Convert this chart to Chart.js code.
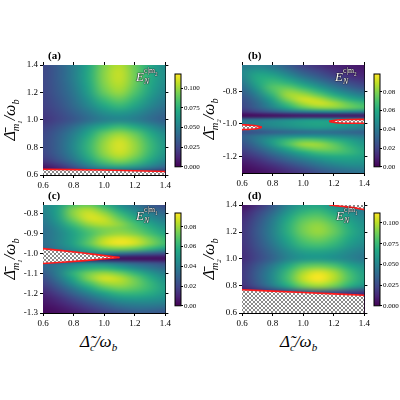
<!DOCTYPE html>
<html><head><meta charset="utf-8">
<script src="https://cdn.jsdelivr.net/npm/chart.js@4.4.1/dist/chart.umd.min.js"></script>
<style>
body{margin:0;width:400px;height:400px;background:#fff;position:relative;overflow:hidden;font-family:"Liberation Serif",serif}
canvas{position:absolute}
.t{position:absolute;white-space:nowrap;color:#000}
.pl{font-weight:bold;font-size:11px}
.ax{font-style:italic;font-size:17px}
.yl{font-style:italic;font-size:16px;transform:translate(-50%,-50%) rotate(-90deg);}
.an{font-style:italic;font-size:12px;color:#fff;text-shadow:0 0 1px #000,0 0 1px #000,0 0 1px #000}
sub,sup{font-size:65%}
</style></head><body>
<script>
// ---- data ----
const xCols=[0.6,0.7,0.8,0.9,1.0,1.1,1.2,1.3,1.4];
const aRows=[1.40,1.35,1.30,1.25,1.20,1.15,1.10,1.05,1.00,0.95,0.90,0.85,0.80,0.75,0.70,0.65,0.60];
const aVals=[
[25,35,50,70,95,105,90,70,55],[25,35,50,72,97,108,92,72,57],[25,35,50,72,97,108,92,72,57],
[25,34,48,70,95,105,90,70,55],[24,33,46,66,90,100,85,66,52],[23,31,43,60,80,90,77,60,48],
[22,29,40,54,70,78,68,54,44],[20,26,35,46,57,62,56,46,38],[18,24,32,42,50,54,50,42,35],
[22,30,42,58,72,80,72,58,46],[25,35,50,70,90,100,90,72,56],[26,37,54,76,98,110,98,78,60],
[26,37,55,78,100,112,100,80,62],[24,35,52,75,97,108,97,77,60],[18,28,44,65,85,95,85,68,52],
[5,12,25,42,55,60,55,45,35],[0,0,0,0,0,0,0,0,0]];
const bRows=[-0.650,-0.675,-0.700,-0.725,-0.750,-0.775,-0.800,-0.825,-0.850,-0.875,-0.900,-0.925,-0.950,-0.975,-1.000,-1.025,-1.050,-1.075,-1.100,-1.125,-1.150,-1.175,-1.200,-1.225,-1.250,-1.275,-1.300];
const bVals=[
[40,45,40,30,20,15,10,8,6],[45,52,48,38,27,20,14,10,8],[45,58,56,46,34,26,18,13,10],
[42,60,63,55,43,33,24,17,13],[38,58,68,64,53,42,31,23,18],[34,54,72,74,64,52,40,30,24],
[30,48,70,82,76,64,50,40,32],[27,42,64,85,86,76,62,50,42],[24,37,57,80,92,88,75,62,54],
[22,33,50,70,86,92,86,74,66],[20,30,44,60,74,82,82,76,70],[14,20,28,36,42,46,48,46,44],
[2,3,4,5,6,6,6,6,6],[36,38,42,46,50,52,50,46,42],[42,44,48,52,56,58,56,52,48],
[36,38,42,46,50,52,50,46,42],[24,26,30,33,35,36,35,33,30],[30,38,44,48,50,50,48,44,40],
[28,40,54,66,74,72,64,56,48],[24,36,52,70,84,84,74,62,52],[20,30,44,60,74,80,76,66,56],
[16,24,36,48,60,68,70,66,58],[12,18,28,38,48,56,60,60,56],[8,13,21,30,38,46,52,54,52],
[5,9,15,22,30,38,44,48,48],[3,6,10,16,22,30,36,40,42],[2,4,7,12,17,24,30,34,38]];
const cRows=[-0.750,-0.775,-0.800,-0.825,-0.850,-0.875,-0.900,-0.925,-0.950,-0.975,-1.000,-1.025,-1.050,-1.075,-1.100,-1.125,-1.150,-1.175,-1.200,-1.225,-1.250,-1.275,-1.300];
const cVals=[
[42,50,66,70,58,44,34,26,20],[42,54,76,82,70,54,42,32,26],[40,54,78,88,80,64,50,40,32],
[38,52,74,88,86,72,58,46,38],[36,48,66,80,84,78,66,54,44],[34,44,58,70,76,76,70,60,50],
[34,42,54,66,76,80,76,66,56],[34,42,54,68,84,90,86,74,62],[34,42,54,70,86,92,88,76,64],
[30,38,48,60,72,76,72,62,52],[30,30,36,40,40,36,30,26,22],[6,6,5,4,3,3,3,3,3],
[30,34,40,44,42,36,30,26,22],[30,40,52,60,62,56,46,38,32],[26,40,60,74,80,74,62,50,40],
[22,36,56,76,88,84,72,58,46],[18,30,48,66,80,82,74,62,50],[14,24,38,54,68,74,70,62,52],
[10,18,30,42,54,62,62,58,50],[7,13,22,32,42,50,52,50,46],[5,9,16,24,32,40,42,42,40],
[3,6,11,17,24,30,34,34,32],[2,4,7,12,17,22,26,26,24]];
const dRows=[1.40,1.35,1.30,1.25,1.20,1.15,1.10,1.05,1.00,0.95,0.90,0.85,0.80,0.75,0.70,0.65,0.60];
const dVals=[
[5,15,30,50,62,65,55,45,38],[10,22,38,58,72,76,66,54,46],[14,27,45,66,82,86,76,62,52],
[16,30,48,70,88,94,84,68,56],[17,31,49,70,88,95,86,70,58],[17,30,47,66,82,88,80,66,56],
[16,28,43,60,74,78,72,60,52],[15,25,38,52,62,64,60,52,46],[14,24,36,50,58,60,56,50,44],
[17,30,46,66,82,86,80,66,56],[18,33,52,76,98,108,98,78,62],[18,33,53,78,102,112,100,80,64],
[15,28,46,68,88,96,88,70,56],[4,8,14,20,24,26,24,20,16],[0,0,0,0,0,0,0,0,0],[0,0,0,0,0,0,0,0,0],[0,0,0,0,0,0,0,0,0]];
const xTicks=[0.6,0.8,1.0,1.2,1.4];
const aYTicks=[0.6,0.8,1.0,1.2,1.4], bYTicks=[-1.2,-1.0,-0.8], cYTicks=[-1.3,-1.2,-1.1,-1.0,-0.9,-0.8], dYTicks=[0.6,0.8,1.0,1.2,1.4];
const cbA=[0,0.025,0.05,0.075,0.1], cbB=[0,0.02,0.04,0.06,0.08], cbC=[0,0.02,0.04,0.06,0.08], cbD=[0,0.025,0.05,0.075,0.1];
// hatched-region boundaries
const aLow=[[0.6,0.642],[1.0,0.636],[1.4,0.626]];
const bL_up=[[0.6,-1.005],[0.66,-1.008],[0.7,-1.013],[0.73,-1.02]], bL_lo=[[0.6,-1.035],[0.66,-1.033],[0.7,-1.028],[0.73,-1.02]];
const bR_up=[[1.17,-0.983],[1.22,-0.976],[1.3,-0.973],[1.4,-0.972]], bR_lo=[[1.17,-0.985],[1.22,-0.993],[1.3,-0.996],[1.4,-0.996]];
const cW_up=[[0.6,-0.975],[0.85,-0.996],[1.1,-1.02]], cW_lo=[[0.6,-1.05],[0.85,-1.037],[1.1,-1.02]];
const dLow=[[0.6,0.772],[1.0,0.752],[1.4,0.732]], dTop=[[1.17,1.4],[1.3,1.384],[1.4,1.366]];

// ---- helpers ----
const VIR=['#440154','#482475','#414487','#355f8d','#2a788e','#21918c','#22a884','#44bf70','#7ad151','#bddf26','#fde725'].map(h=>[1,3,5].map(i=>parseInt(h.substr(i,2),16)));
function vir(t){t=Math.max(0,Math.min(1,t))*10;const i=Math.min(9,Math.floor(t)),f=t-i;return VIR[i].map((c,k)=>Math.round(c+(VIR[i+1][k]-c)*f));}
const pc=document.createElement('canvas');pc.width=4;pc.height=4;const pg=pc.getContext('2d');
pg.fillStyle='#fff';pg.fillRect(0,0,4,4);pg.fillStyle='#8a8a8a';pg.fillRect(0,0,2,2);pg.fillRect(2,2,2,2);
const hatch=pg.createPattern(pc,'repeat');
const pts=a=>a.map(p=>({x:p[0],y:p[1]}));
const heatPlugin={id:'heat',beforeDatasetsDraw(ch,a,o){
  const nx=o.xs.length,ny=o.ys.length,oc=document.createElement('canvas');oc.width=nx;oc.height=ny;
  const g=oc.getContext('2d'),im=g.createImageData(nx,ny);
  for(let j=0;j<ny;j++)for(let i=0;i<nx;i++){const c=vir(o.vals[j][i]*0.001/o.max),k=(j*nx+i)*4;im.data[k]=c[0];im.data[k+1]=c[1];im.data[k+2]=c[2];im.data[k+3]=255;}
  g.putImageData(im,0,0);
  const xs=ch.scales.x,ys=ch.scales.y,dx=(o.xs[1]-o.xs[0])/2,dy=(o.ys[1]-o.ys[0])/2;
  const x0=xs.getPixelForValue(o.xs[0]-dx),x1=xs.getPixelForValue(o.xs[nx-1]+dx),y0=ys.getPixelForValue(o.ys[0]-dy),y1=ys.getPixelForValue(o.ys[ny-1]+dy);
  const c=ch.ctx,ca=ch.chartArea;c.save();c.beginPath();c.rect(ca.left,ca.top,ca.width,ca.height);c.clip();
  c.imageSmoothingEnabled=true;c.imageSmoothingQuality='high';c.drawImage(oc,x0,y0,x1-x0,y1-y0);c.restore();}};
const cbPlugin={id:'cb',beforeDatasetsDraw(ch){const c=ch.ctx,ca=ch.chartArea,gr=c.createLinearGradient(0,ca.bottom,0,ca.top);
  VIR.forEach((v,i)=>gr.addColorStop(i/10,'rgb('+v.join(',')+')'));c.fillStyle=gr;c.fillRect(ca.left,ca.top,ca.width,ca.height);
  c.strokeStyle='#000';c.lineWidth=1;c.strokeRect(ca.left,ca.top,ca.width,ca.height);}};
const F={family:'"Liberation Serif",serif',size:9};
function mk(l,t,w,h){const cv=document.createElement('canvas');cv.style.left=l+'px';cv.style.top=t+'px';cv.style.width=w+'px';cv.style.height=h+'px';document.body.appendChild(cv);return cv;}
function ax(pos,tk,show,fix,min,max,fmt){return {type:'linear',position:pos,min,max,
  afterBuildTicks:s=>{s.ticks=tk.map(v=>({value:v}));},afterFit:s=>{if(pos==='left'||pos==='right')s.width=fix;else s.height=fix;},
  ticks:{display:show,font:F,color:'#000',padding:2,maxRotation:0,autoSkip:false,callback:fmt},
  grid:{drawOnChartArea:false,tickLength:3,color:'#000'},border:{color:'#000',width:1}};}
function panel(l,t,h,xs,rows,vals,max,ymin,ymax,yt,yfmt,sets){
  new Chart(mk(l,t,173,h),{type:'scatter',data:{datasets:sets},plugins:[heatPlugin],
   options:{responsive:false,animation:false,layout:{padding:{top:7,right:0,left:0,bottom:0}},
    plugins:{legend:{display:false},tooltip:{enabled:false},heat:{xs,ys:rows,vals,max}},
    elements:{point:{radius:0}},
    scales:{x:ax('bottom',xTicks,true,15,0.6,1.4,v=>v.toFixed(1)),x2:ax('top',xTicks,false,3,0.6,1.4),
            y:ax('left',yt,true,43,ymin,ymax,yfmt),y2:ax('right',yt,false,3,ymin,ymax)}}});
}
function cbar(l,t,max,tk,fmt){
  new Chart(mk(l,t,29,112),{type:'bar',data:{labels:[''],datasets:[{data:[0]}]},plugins:[cbPlugin],
   options:{responsive:false,animation:false,layout:{padding:{left:3,top:14,bottom:5}},plugins:{legend:{display:false},tooltip:{enabled:false}},
    scales:{x:{display:false},y:{type:'linear',position:'right',min:0,max,afterBuildTicks:s=>{s.ticks=tk.map(v=>({value:v}));},afterFit:s=>{s.width=20;},
      ticks:{font:{family:'"Liberation Serif",serif',size:7},color:'#000',padding:1,callback:fmt},grid:{drawOnChartArea:false,tickLength:2,color:'#000'},border:{display:false}}}}});
}
const ds=(a,fill)=>({data:pts(a),showLine:true,fill,backgroundColor:hatch,borderColor:'#ff1a1a',borderWidth:1.6,tension:0.3});
const f1=v=>v.toFixed(1), f3=v=>v.toFixed(3), f2=v=>v.toFixed(2);
panel(0,55,135,xCols,aRows,aVals,0.118,0.6,1.4,aYTicks,f1,[ds(aLow,'start')]);
panel(199,55,133,xCols,bRows,bVals,0.099,-1.3,-0.64,bYTicks,f1,[ds(bL_up,false),ds(bL_lo,'-1'),ds(bR_up,false),ds(bR_lo,'-1')]);
panel(0,195,133,xCols,cRows,cVals,0.094,-1.3,-0.755,cYTicks,f1,[ds(cW_up,false),ds(cW_lo,'-1')]);
panel(199,195,133,xCols,dRows,dVals,0.112,0.6,1.4,dYTicks,f1,[ds(dLow,'start'),ds(dTop,'end')]);
cbar(172,60,0.118,cbA,f3);cbar(371,60,0.099,cbB,f2);cbar(172,199,0.094,cbC,f2);cbar(371,199,0.112,cbD,f3);
function txt(cls,l,t,html){const d=document.createElement('div');d.className='t '+cls;d.style.left=l+'px';d.style.top=t+'px';d.innerHTML=html;document.body.appendChild(d);}
txt('pl',48,49,'(a)');txt('pl',248,49,'(b)');txt('pl',48,189,'(c)');txt('pl',248,189,'(d)');
const E=m=>'<span style="font-size:13px">E</span><span style="display:inline-block;vertical-align:-3px;line-height:8px"><sup style="font-style:normal;display:block">c|m<sub>'+m+'</sub></sup><sub style="display:block">N</sub></span>';
txt('an',136,67,E(2));txt('an',335,67,E(2));txt('an',136,206,E(1));txt('an',336,206,E(1));
txt('ax',80,332,'Δ̃<sub>c</sub>/ω<sub>b</sub>');txt('ax',280,332,'Δ̃<sub>c</sub>/ω<sub>b</sub>');
txt('yl',12,120,'Δ̄<sub>m<sub>1</sub></sub>/ω<sub>b</sub>');txt('yl',211,119,'Δ̄<sub>m<sub>2</sub></sub>/ω<sub>b</sub>');
txt('yl',12,259,'Δ̄<sub>m<sub>1</sub></sub>/ω<sub>b</sub>');txt('yl',211,259,'Δ̄<sub>m<sub>2</sub></sub>/ω<sub>b</sub>');
</script></body></html>
